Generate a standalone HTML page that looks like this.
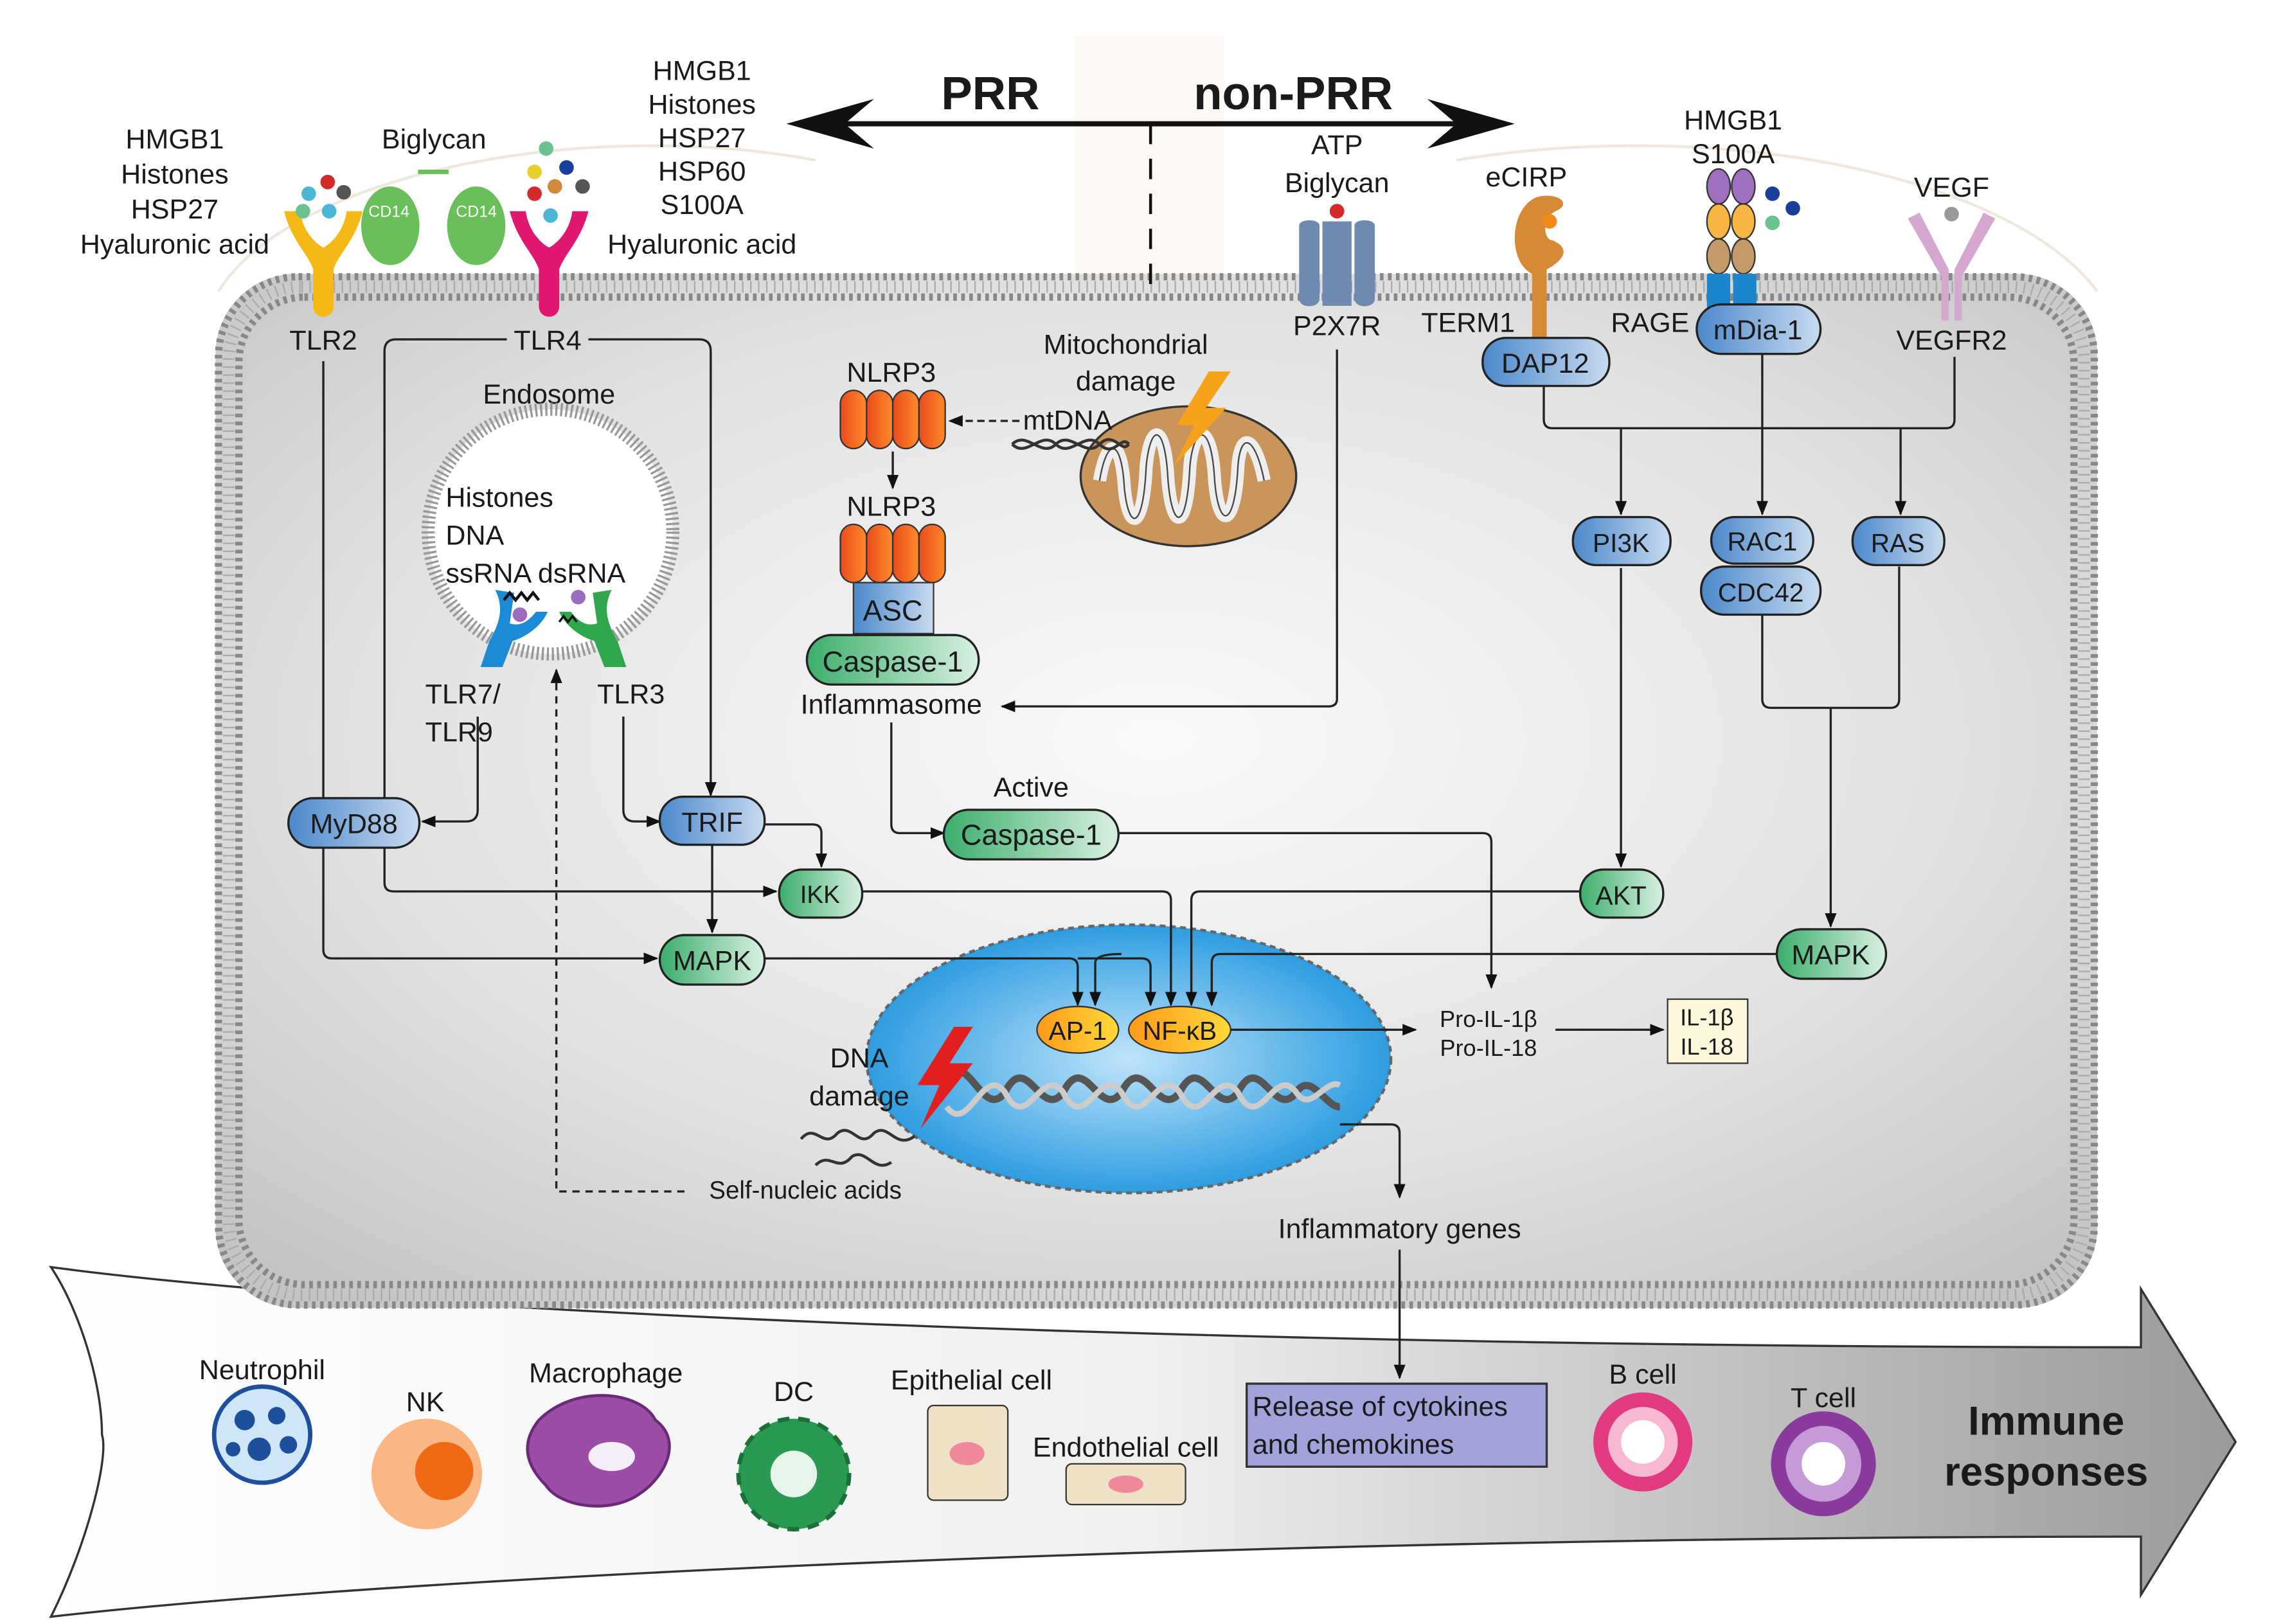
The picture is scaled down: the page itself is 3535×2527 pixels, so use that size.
<!DOCTYPE html>
<html><head><meta charset="utf-8"><style>
html,body{margin:0;padding:0;background:#fff;}
svg{display:block;}
text{font-family:"Liberation Sans",sans-serif;fill:#1a1a1a;}
</style></head><body>
<svg width="3535" height="2527" viewBox="0 0 1560 1115" preserveAspectRatio="none" xmlns="http://www.w3.org/2000/svg">
<defs>
<radialGradient id="cell" cx="0.5" cy="0.45" r="0.7">
<stop offset="0" stop-color="#fafafa"/><stop offset="0.6" stop-color="#e2e2e2"/><stop offset="1" stop-color="#c4c4c4"/></radialGradient>
<linearGradient id="arrowg" x1="0" x2="1" y1="0" y2="0"><stop offset="0" stop-color="#ffffff"/><stop offset="0.5" stop-color="#f0f0f0"/><stop offset="1" stop-color="#9a9a9a"/></linearGradient>
<radialGradient id="nuc" cx="0.5" cy="0.5" r="0.55"><stop offset="0" stop-color="#bfe4fa"/><stop offset="1" stop-color="#1f96de"/></radialGradient>
<linearGradient id="blue" x1="0" x2="1"><stop offset="0" stop-color="#4c88cc"/><stop offset="1" stop-color="#c8dbef"/></linearGradient>
<linearGradient id="green" x1="0" x2="1"><stop offset="0" stop-color="#3cae6c"/><stop offset="1" stop-color="#d9f1e2"/></linearGradient>
<linearGradient id="orange" x1="0" x2="1"><stop offset="0" stop-color="#e94b1c"/><stop offset="1" stop-color="#ff8a2a"/></linearGradient>
<linearGradient id="yel" x1="0" x2="1"><stop offset="0" stop-color="#ff9a1a"/><stop offset="1" stop-color="#ffd93a"/></linearGradient>
<marker id="ah" markerWidth="10" markerHeight="10" refX="9" refY="5" orient="auto" markerUnits="userSpaceOnUse"><path d="M0,1 L10,5 L0,9 Z" fill="#111"/></marker>
</defs>

<!-- faint lung outline -->
<rect x="738" y="25" width="102" height="240" fill="#fcf8f3"/>
<path d="M150,200 C200,120 400,80 560,110 M1440,200 C1380,120 1180,80 1000,110" stroke="#f0e8df" stroke-width="2" fill="none"/>

<!-- bottom arrow -->
<path d="M35,870 C300,905 900,925 1470,925 L1470,885 L1535,990 L1470,1095 L1470,1055 C900,1055 300,1080 35,1110 C60,1060 75,1000 70,985 C70,950 55,900 35,870 Z" fill="url(#arrowg)" stroke="#333" stroke-width="1.5"/>

<!-- cell -->
<rect x="148" y="188" width="1292" height="710" rx="55" fill="url(#cell)"/>
<rect x="150" y="190" width="1288" height="706" rx="55" fill="none" stroke="#888" stroke-width="5" stroke-dasharray="2.5 3"/>
<rect x="164" y="204" width="1260" height="678" rx="45" fill="none" stroke="#888" stroke-width="5" stroke-dasharray="2.5 3"/>
<rect x="157" y="197" width="1274" height="692" rx="50" fill="none" stroke="#aaa" stroke-width="8" stroke-dasharray="1 4.5"/>

<!-- PRR arrow -->
<line x1="555" y1="85" x2="1025" y2="85" stroke="#111" stroke-width="3.5"/>
<path d="M540,85 L600,68 L580,85 L600,102 Z" fill="#111"/>
<path d="M1040,85 L980,68 L1000,85 L980,102 Z" fill="#111"/>
<text x="680" y="75" font-size="32" font-weight="bold" text-anchor="middle">PRR</text>
<text x="888" y="75" font-size="32" font-weight="bold" text-anchor="middle">non-PRR</text>
<line x1="790" y1="85" x2="790" y2="200" stroke="#111" stroke-width="2" stroke-dasharray="14 10"/>

<!-- ligand labels -->
<g font-size="19" text-anchor="middle">
<text x="120" y="102">HMGB1</text><text x="120" y="126">Histones</text><text x="120" y="150">HSP27</text><text x="120" y="174">Hyaluronic acid</text>
<text x="298" y="102">Biglycan</text>
<text x="482" y="55">HMGB1</text><text x="482" y="78">Histones</text><text x="482" y="101">HSP27</text><text x="482" y="124">HSP60</text><text x="482" y="147">S100A</text><text x="482" y="174">Hyaluronic acid</text>
<text x="918" y="106">ATP</text><text x="918" y="132">Biglycan</text>
<text x="1048" y="128">eCIRP</text>
<text x="1190" y="89">HMGB1</text><text x="1190" y="112">S100A</text>
<text x="1340" y="135">VEGF</text>
<text x="222" y="240">TLR2</text>
<text x="918" y="230">P2X7R</text>
<text x="1008" y="228">TERM1</text>
<text x="1133" y="228">RAGE</text>
<text x="1340" y="240">VEGFR2</text>
</g>

<!-- receptors -->
<path d="M195,145 C200,165 212,175 215,185 L215,210 C215,220 229,220 229,210 L229,185 C232,175 244,165 249,145 L238,145 C236,160 226,168 222,170 C218,168 208,160 206,145 Z" fill="#f5b915"/>
<path d="M350,145 C355,165 367,175 370,185 L370,210 C370,220 384,220 384,210 L384,185 C387,175 399,165 404,145 L393,145 C391,160 381,168 377,170 C373,168 363,160 361,145 Z" fill="#e0176f"/>
<ellipse cx="268" cy="155" rx="20" ry="27" fill="#6abf5a"/>
<ellipse cx="327" cy="155" rx="20" ry="27" fill="#6abf5a"/>
<text x="253" y="149" font-size="11" style="fill:#fff">CD14</text>
<text x="313" y="149" font-size="11" style="fill:#fff">CD14</text>
<path d="M287,118 L308,118" stroke="#6abf5a" stroke-width="3"/>
<circle cx="212" cy="133" r="5" fill="#4bb6d6"/><circle cx="225" cy="125" r="5" fill="#d32a2a"/><circle cx="236" cy="132" r="5" fill="#555"/><circle cx="226" cy="145" r="5" fill="#4bb6d6"/><circle cx="208" cy="145" r="5" fill="#69c28f"/>
<circle cx="375" cy="102" r="5" fill="#69c28f"/><circle cx="389" cy="115" r="5" fill="#1a3f9a"/><circle cx="367" cy="118" r="5" fill="#e8d02a"/><circle cx="381" cy="128" r="5" fill="#d08a3a"/><circle cx="400" cy="128" r="5" fill="#555"/><circle cx="367" cy="133" r="5" fill="#d32a2a"/><circle cx="378" cy="148" r="5" fill="#4bb6d6"/>
<!-- P2X7R -->
<path d="M892,155 C892,150 906,150 906,155 L906,205 C906,212 892,212 892,205 Z M908,152 L928,152 L928,210 L908,210 Z M930,155 C930,150 944,150 944,155 L944,205 C944,212 930,212 930,205 Z" fill="#6f8ab0"/>
<circle cx="918" cy="145" r="5" fill="#d32a2a"/>
<!-- eCIRP -->
<path d="M1052,195 L1052,235 L1062,235 L1062,185 C1075,178 1078,170 1066,165 C1060,165 1058,150 1068,145 C1080,140 1070,132 1056,135 C1036,142 1035,180 1052,188 Z" fill="#d68a36"/>
<circle cx="1064" cy="152" r="5" fill="#f08a1a"/>
<!-- RAGE -->
<g stroke="#333" stroke-width="1">
<ellipse cx="1180" cy="128" rx="8" ry="12" fill="#a070c0"/><ellipse cx="1197" cy="128" rx="8" ry="12" fill="#a070c0"/>
<ellipse cx="1180" cy="152" rx="8" ry="12" fill="#f7b543"/><ellipse cx="1197" cy="152" rx="8" ry="12" fill="#f7b543"/>
<ellipse cx="1180" cy="176" rx="8" ry="12" fill="#c49a6a"/><ellipse cx="1197" cy="176" rx="8" ry="12" fill="#c49a6a"/>
</g>
<rect x="1172" y="188" width="16" height="24" fill="#1c86cc"/><rect x="1190" y="188" width="16" height="24" fill="#1c86cc"/>
<circle cx="1217" cy="133" r="5" fill="#1a3f9a"/><circle cx="1231" cy="143" r="5" fill="#1a3f9a"/><circle cx="1217" cy="153" r="5" fill="#69c28f"/>
<!-- VEGFR2 -->
<path d="M1310,150 L1333,190 L1333,220 L1338,220 L1338,185 L1318,146 Z M1370,150 L1347,190 L1347,220 L1342,220 L1342,185 L1362,146 Z" fill="#d6a8d0"/>
<circle cx="1340" cy="147" r="5" fill="#999"/>

<!-- TLR4 box lines -->
<text x="376" y="240" font-size="19" text-anchor="middle">TLR4</text>
<path d="M348,233 L272,233 Q264,233 264,241 L264,562" stroke="#222" stroke-width="1.5" fill="none" marker-end="url(#ah)"/>
<path d="M404,233 L480,233 Q488,233 488,241 L488,546" stroke="#222" stroke-width="1.5" fill="none" marker-end="url(#ah)"/>
<path d="M222,248 L222,562" stroke="#222" stroke-width="1.5" fill="none" marker-end="url(#ah)"/>

<!-- Endosome -->
<text x="377" y="277" font-size="19" text-anchor="middle">Endosome</text>
<circle cx="378" cy="365" r="84" fill="#fff" stroke="#999" stroke-width="9" stroke-dasharray="1.5 2"/>
<circle cx="378" cy="365" r="78" fill="#fff"/>
<g font-size="19"><text x="306" y="348">Histones</text><text x="306" y="374">DNA</text><text x="306" y="400">ssRNA dsRNA</text></g>
<path d="M340,405 C345,415 345,425 336,440 L330,458 L345,458 L352,440 C360,438 372,430 376,420 L368,420 C362,428 356,430 350,428 L353,407 Z" fill="#1d8ad6"/>
<path d="M420,405 C415,415 415,425 424,440 L430,458 L415,458 L408,440 C400,438 388,430 384,420 L392,420 C398,428 404,430 410,428 L407,407 Z" fill="#2ea84a"/>
<circle cx="357" cy="422" r="5" fill="#9b6bc0"/><circle cx="397" cy="410" r="5" fill="#9b6bc0"/>
<path d="M346,412 l4,-5 l4,5 l4,-5 l4,5 l4,-5 l4,5" stroke="#111" stroke-width="2" fill="none"/>
<path d="M384,427 l3,-4 l3,4 l3,-4 l3,4" stroke="#111" stroke-width="1.5" fill="none"/>
<g font-size="19"><text x="292" y="483">TLR7/</text><text x="292" y="509">TLR9</text><text x="410" y="483">TLR3</text></g>
<path d="M328,492 L328,556 Q328,564 320,564 L290,564" stroke="#222" stroke-width="1.5" fill="none" marker-end="url(#ah)"/>
<path d="M428,492 L428,556 Q428,564 436,564 L453,564" stroke="#222" stroke-width="1.5" fill="none" marker-end="url(#ah)"/>
<path d="M470,818 L382,818 L382,460" stroke="#222" stroke-width="1.5" fill="none" stroke-dasharray="5 4" marker-end="url(#ah)"/>

<!-- NLRP3 -->
<text x="612" y="262" font-size="19" text-anchor="middle">NLRP3</text>
<g fill="url(#orange)" stroke="#333" stroke-width="1">
<rect x="577" y="268" width="18" height="40" rx="9"/><rect x="595" y="268" width="18" height="40" rx="9"/><rect x="613" y="268" width="18" height="40" rx="9"/><rect x="631" y="268" width="18" height="40" rx="9"/>
<rect x="577" y="360" width="18" height="40" rx="9"/><rect x="595" y="360" width="18" height="40" rx="9"/><rect x="613" y="360" width="18" height="40" rx="9"/><rect x="631" y="360" width="18" height="40" rx="9"/>
</g>
<text x="612" y="354" font-size="19" text-anchor="middle">NLRP3</text>
<line x1="613" y1="310" x2="613" y2="335" stroke="#222" stroke-width="1.5" marker-end="url(#ah)"/>
<rect x="586" y="400" width="55" height="35" fill="url(#blue)" stroke="#333" stroke-width="1"/>
<text x="613" y="426" font-size="20" text-anchor="middle">ASC</text>
<rect x="554" y="436" width="118" height="34" rx="17" fill="url(#green)" stroke="#222" stroke-width="1.5"/>
<text x="613" y="461" font-size="20" text-anchor="middle">Caspase-1</text>
<text x="612" y="490" font-size="19" text-anchor="middle">Inflammasome</text>
<path d="M918,240 L918,480 Q918,485 912,485 L688,485" stroke="#222" stroke-width="1.5" fill="none" marker-end="url(#ah)"/>
<path d="M612,496 L612,566 Q612,572 618,572 L648,572" stroke="#222" stroke-width="1.5" fill="none" marker-end="url(#ah)"/>

<!-- Mitochondrion -->
<text x="773" y="243" font-size="19" text-anchor="middle">Mitochondrial</text>
<text x="773" y="268" font-size="19" text-anchor="middle">damage</text>
<ellipse cx="816" cy="327" rx="74" ry="48" fill="#c9955a" stroke="#333" stroke-width="1.5"/>
<path d="M755,330 C760,300 770,300 772,335 C775,365 785,365 787,320 C790,290 800,290 802,330 C805,365 815,365 817,320 C820,290 832,290 834,330 C837,365 848,362 850,320 C852,295 862,300 868,330" stroke="#eee" stroke-width="9" fill="none"/>
<path d="M755,330 C760,300 770,300 772,335 C775,365 785,365 787,320 C790,290 800,290 802,330 C805,365 815,365 817,320 C820,290 832,290 834,330 C837,365 848,362 850,320 C852,295 862,300 868,330" stroke="#444" stroke-width="1" fill="none"/>
<path d="M830,255 L808,292 L820,292 L806,320 L842,280 L828,280 L845,255 Z" fill="#f6a21a"/>
<text x="733" y="295" font-size="19" text-anchor="middle">mtDNA</text>
<path d="M695,305 C705,295 715,315 725,305 C735,295 745,315 755,305 C765,295 770,312 775,305 M695,305 C705,315 715,295 725,305 C735,315 745,295 755,305 C765,315 770,298 775,305" stroke="#333" stroke-width="2" fill="none"/>
<line x1="700" y1="289" x2="652" y2="289" stroke="#222" stroke-width="1.5" stroke-dasharray="5 3" marker-end="url(#ah)"/>

<!-- Right pathways -->
<rect x="1018" y="232" width="87" height="33" rx="16" fill="url(#blue)" stroke="#222" stroke-width="1.5"/>
<text x="1061" y="256" font-size="19" text-anchor="middle">DAP12</text>
<rect x="1165" y="209" width="85" height="34" rx="17" fill="url(#blue)" stroke="#222" stroke-width="1.5"/>
<text x="1207" y="233" font-size="19" text-anchor="middle">mDia-1</text>
<path d="M1060,265 L1060,288 Q1060,294 1066,294 L1336,294 Q1342,294 1342,288 L1342,245" stroke="#222" stroke-width="1.5" fill="none"/>
<line x1="1210" y1="243" x2="1210" y2="294" stroke="#222" stroke-width="1.5"/>
<line x1="1113" y1="294" x2="1113" y2="353" stroke="#222" stroke-width="1.5" marker-end="url(#ah)"/>
<line x1="1210" y1="294" x2="1210" y2="353" stroke="#222" stroke-width="1.5" marker-end="url(#ah)"/>
<line x1="1305" y1="294" x2="1305" y2="353" stroke="#222" stroke-width="1.5" marker-end="url(#ah)"/>
<rect x="1080" y="355" width="67" height="33" rx="16" fill="url(#blue)" stroke="#222" stroke-width="1.5"/>
<text x="1113" y="379" font-size="18" text-anchor="middle">PI3K</text>
<rect x="1175" y="355" width="70" height="32" rx="16" fill="url(#blue)" stroke="#222" stroke-width="1.5"/>
<text x="1210" y="378" font-size="18" text-anchor="middle">RAC1</text>
<rect x="1168" y="389" width="82" height="33" rx="16" fill="url(#blue)" stroke="#222" stroke-width="1.5"/>
<text x="1209" y="413" font-size="18" text-anchor="middle">CDC42</text>
<rect x="1272" y="355" width="63" height="33" rx="16" fill="url(#blue)" stroke="#222" stroke-width="1.5"/>
<text x="1303" y="379" font-size="18" text-anchor="middle">RAS</text>
<line x1="1113" y1="390" x2="1113" y2="595" stroke="#222" stroke-width="1.5" marker-end="url(#ah)"/>
<path d="M1210,422 L1210,480 Q1210,486 1216,486 L1298,486 Q1304,486 1304,480 L1304,389" stroke="#222" stroke-width="1.5" fill="none"/>
<line x1="1257" y1="486" x2="1257" y2="636" stroke="#222" stroke-width="1.5" marker-end="url(#ah)"/>
<rect x="1085" y="597" width="57" height="33" rx="16" fill="url(#green)" stroke="#222" stroke-width="1.5"/>
<text x="1113" y="621" font-size="18" text-anchor="middle">AKT</text>
<rect x="1220" y="638" width="75" height="34" rx="17" fill="url(#green)" stroke="#222" stroke-width="1.5"/>
<text x="1257" y="662" font-size="19" text-anchor="middle">MAPK</text>

<!-- Left nodes -->
<rect x="198" y="548" width="90" height="34" rx="17" fill="url(#blue)" stroke="#222" stroke-width="1.5"/>
<text x="243" y="572" font-size="19" text-anchor="middle">MyD88</text>
<rect x="453" y="547" width="72" height="33" rx="16" fill="url(#blue)" stroke="#222" stroke-width="1.5"/>
<text x="489" y="571" font-size="19" text-anchor="middle">TRIF</text>
<rect x="535" y="597" width="57" height="33" rx="16" fill="url(#green)" stroke="#222" stroke-width="1.5"/>
<text x="563" y="620" font-size="17" text-anchor="middle">IKK</text>
<rect x="453" y="642" width="72" height="34" rx="17" fill="url(#green)" stroke="#222" stroke-width="1.5"/>
<text x="489" y="666" font-size="19" text-anchor="middle">MAPK</text>
<text x="708" y="547" font-size="19" text-anchor="middle">Active</text>
<rect x="648" y="556" width="120" height="34" rx="17" fill="url(#green)" stroke="#222" stroke-width="1.5"/>
<text x="708" y="580" font-size="20" text-anchor="middle">Caspase-1</text>

<!-- Nucleus -->
<ellipse cx="775" cy="727" rx="180" ry="92" fill="url(#nuc)" stroke="#666" stroke-width="2" stroke-dasharray="4 3"/>
<g stroke="#555" stroke-width="5" fill="none">
<path d="M650,740 C665,720 675,770 690,750 C705,720 715,770 730,750 C745,720 755,770 770,750 C785,720 795,770 810,750 C825,720 835,770 850,750 C865,720 875,770 890,750 C900,735 910,760 920,760"/>
</g>
<g stroke="#ccc" stroke-width="4" fill="none">
<path d="M650,760 C665,780 675,730 690,750 C705,780 715,730 730,750 C745,780 755,730 770,750 C785,780 795,730 810,750 C825,780 835,730 850,750 C865,780 875,730 890,750 C900,765 910,740 920,745"/>
</g>

<g stroke="#222" stroke-width="1.5" fill="none">
<path d="M525,566 L558,566 Q564,566 564,572 L564,595" marker-end="url(#ah)"/>
<path d="M489,580 L489,640" marker-end="url(#ah)"/>
<path d="M264,582 L264,606 Q264,612 270,612 L533,612" marker-end="url(#ah)"/>
<path d="M222,582 L222,652 Q222,658 228,658 L451,658" marker-end="url(#ah)"/>
<path d="M592,612 L798,612 Q804,612 804,618 L804,690" marker-end="url(#ah)"/>
<path d="M525,658 L734,658 Q740,658 740,664 L740,690" marker-end="url(#ah)"/>
<path d="M768,572 L1018,572 Q1024,572 1024,578 L1024,678" marker-end="url(#ah)"/>
<path d="M1085,612 L824,612 Q818,612 818,618 L818,690" marker-end="url(#ah)"/>
<path d="M1220,655 L838,655 Q832,655 832,661 L832,690" marker-end="url(#ah)"/>
<path d="M770,655 Q752,655 752,661 L752,690" marker-end="url(#ah)"/>
<path d="M740,658 L784,658 Q790,658 790,664 L790,690" marker-end="url(#ah)"/>
</g>

<path d="M655,705 L630,745 L645,745 L632,775 L668,730 L652,730 L668,705 Z" fill="#e21f1f"/>
<text x="590" y="733" font-size="19" text-anchor="middle">DNA</text>
<text x="590" y="759" font-size="19" text-anchor="middle">damage</text>
<path d="M550,782 C560,770 565,790 575,778 C585,770 590,790 600,778 C610,770 615,790 628,780" stroke="#333" stroke-width="2" fill="none"/>
<path d="M560,800 C570,790 575,806 585,794 C595,788 600,806 612,798" stroke="#333" stroke-width="2" fill="none"/>
<text x="553" y="823" font-size="17" text-anchor="middle">Self-nucleic acids</text>
<ellipse cx="740" cy="707" rx="28" ry="16" fill="url(#yel)" stroke="#333" stroke-width="1"/>
<text x="740" y="714" font-size="18" text-anchor="middle">AP-1</text>
<ellipse cx="810" cy="707" rx="35" ry="16" fill="url(#yel)" stroke="#333" stroke-width="1"/>
<text x="810" y="714" font-size="18" text-anchor="middle">NF-κB</text>
<line x1="845" y1="707" x2="972" y2="707" stroke="#222" stroke-width="1.5" marker-end="url(#ah)"/>
<text x="1022" y="705" font-size="16" text-anchor="middle">Pro-IL-1β</text>
<text x="1022" y="725" font-size="16" text-anchor="middle">Pro-IL-18</text>
<line x1="1068" y1="707" x2="1142" y2="707" stroke="#222" stroke-width="1.5" marker-end="url(#ah)"/>
<rect x="1145" y="686" width="55" height="44" fill="#fdf8dc" stroke="#333" stroke-width="1"/>
<text x="1172" y="704" font-size="16" text-anchor="middle">IL-1β</text>
<text x="1172" y="724" font-size="16" text-anchor="middle">IL-18</text>
<path d="M920,772 L955,772 Q961,772 961,778 L961,822" stroke="#222" stroke-width="1.5" fill="none" marker-end="url(#ah)"/>
<text x="961" y="850" font-size="19" text-anchor="middle">Inflammatory genes</text>
<line x1="961" y1="858" x2="961" y2="946" stroke="#222" stroke-width="1.5" marker-end="url(#ah)"/>

<!-- bottom cells -->
<rect x="856" y="950" width="206" height="57" fill="#a3a3dc" stroke="#333" stroke-width="1.5"/>
<text x="860" y="972" font-size="19">Release of cytokines</text>
<text x="860" y="998" font-size="19">and chemokines</text>
<g font-size="19" text-anchor="middle">
<text x="180" y="947">Neutrophil</text><text x="292" y="969">NK</text><text x="416" y="949">Macrophage</text><text x="545" y="962">DC</text>
<text x="667" y="954">Epithelial cell</text><text x="773" y="1000">Endothelial cell</text>
<text x="1128" y="950">B cell</text><text x="1252" y="966">T cell</text>
</g>
<text x="1405" y="985" font-size="28" font-weight="bold" text-anchor="middle">Immune</text>
<text x="1405" y="1020" font-size="28" font-weight="bold" text-anchor="middle">responses</text>
<circle cx="180" cy="985" r="33" fill="#cfe6f7" stroke="#1d4f9c" stroke-width="3"/>
<g fill="#1d4f9c"><circle cx="168" cy="975" r="7"/><circle cx="190" cy="972" r="6"/><circle cx="178" cy="995" r="8"/><circle cx="198" cy="992" r="6"/><circle cx="160" cy="995" r="5"/></g>
<circle cx="293" cy="1012" r="38" fill="#fbb884"/><circle cx="305" cy="1010" r="20" fill="#f06a16"/>
<path d="M370,975 C395,950 440,955 450,975 C470,990 455,1015 440,1025 C420,1040 385,1035 375,1020 C360,1005 358,990 370,975 Z" fill="#9c4ea6" stroke="#6a2a78" stroke-width="2"/>
<ellipse cx="420" cy="1000" rx="16" ry="10" fill="#f4eef8"/>
<circle cx="545" cy="1012" r="38" fill="#2a9a52" stroke="#1a7038" stroke-width="3" stroke-dasharray="8 6"/>
<circle cx="545" cy="1012" r="16" fill="#e6f4ea"/>
<rect x="637" y="965" width="55" height="65" rx="4" fill="#efe1c6" stroke="#333" stroke-width="1"/>
<ellipse cx="664" cy="998" rx="12" ry="8" fill="#f08a9a"/>
<rect x="732" y="1005" width="82" height="28" rx="4" fill="#efe1c6" stroke="#333" stroke-width="1"/>
<ellipse cx="773" cy="1019" rx="12" ry="6" fill="#f08a9a"/>
<circle cx="1128" cy="990" r="34" fill="#e23a80"/><circle cx="1128" cy="990" r="24" fill="#f7b9d2"/><circle cx="1128" cy="990" r="15" fill="#fff"/>
<circle cx="1252" cy="1005" r="36" fill="#8a3a9c"/><circle cx="1252" cy="1005" r="26" fill="#c59ad6"/><circle cx="1252" cy="1005" r="15" fill="#fff"/>
</svg>
</body></html>
